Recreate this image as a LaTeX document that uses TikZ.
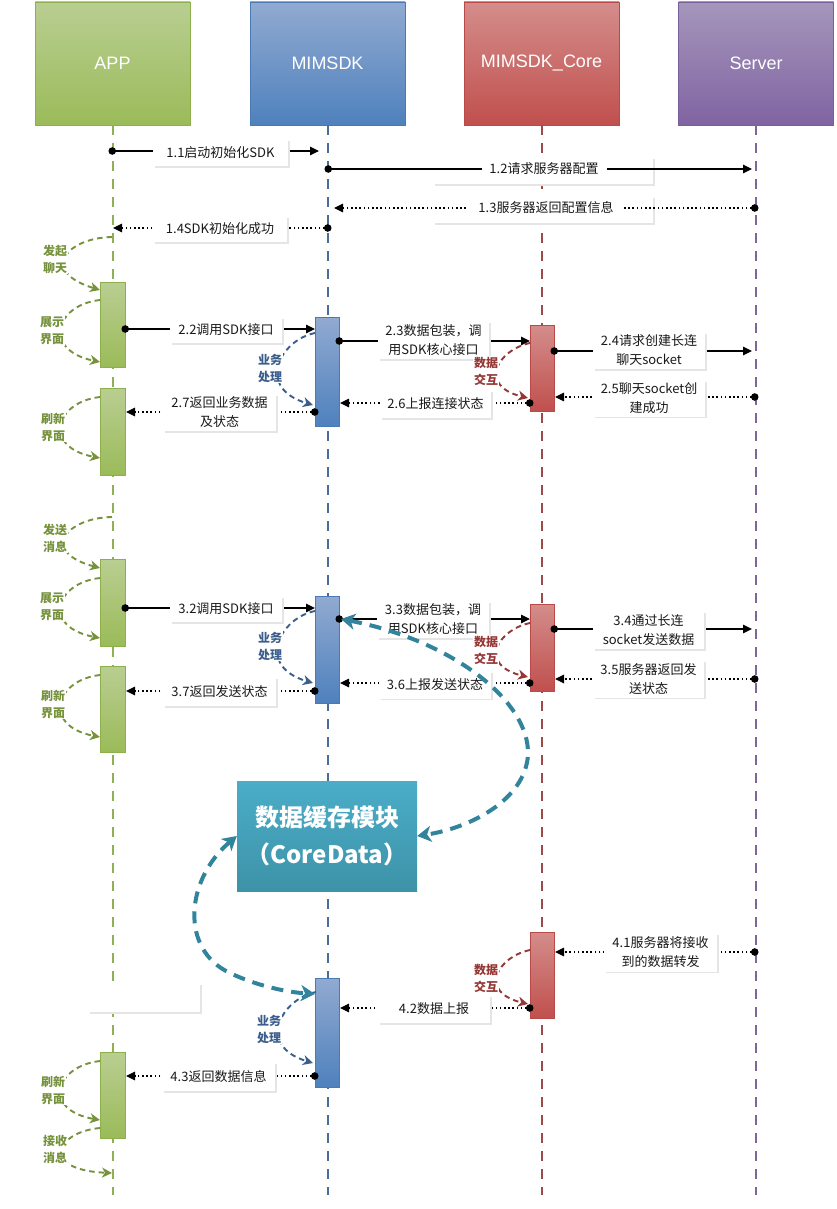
\documentclass[tikz,border=0pt]{standalone}
\usepackage{fontspec}
\setmainfont{Noto Sans CJK SC}
\newfontfamily\headfont{Liberation Sans}
\usetikzlibrary{arrows.meta,shadows}
\definecolor{appTop}{HTML}{B9CE92}
\definecolor{appBot}{HTML}{9BBB59}
\definecolor{appBd}{HTML}{8DAF4C}
\definecolor{appLn}{HTML}{8FB055}
\definecolor{appTx}{HTML}{76923C}
\definecolor{sdkTop}{HTML}{91AAD1}
\definecolor{sdkBot}{HTML}{4F81BD}
\definecolor{sdkBd}{HTML}{4A7AB5}
\definecolor{sdkLn}{HTML}{4A6C9A}
\definecolor{sdkTx}{HTML}{3B5E8C}
\definecolor{coreTop}{HTML}{D48D8B}
\definecolor{coreBot}{HTML}{C0504D}
\definecolor{coreBd}{HTML}{BA4A47}
\definecolor{coreLn}{HTML}{9C4A4A}
\definecolor{coreTx}{HTML}{953735}
\definecolor{srvTop}{HTML}{A596BB}
\definecolor{srvBot}{HTML}{8064A2}
\definecolor{srvBd}{HTML}{7A5F9C}
\definecolor{srvLn}{HTML}{7F6698}
\definecolor{cdTop}{HTML}{4BADC8}
\definecolor{cdBot}{HTML}{3D93A8}
\definecolor{cdAr}{HTML}{31849B}
\tikzset{
  hbox/.style n args={3}{draw=#3, line width=0.8pt, top color=#1, bottom color=#2,
    minimum width=155pt, minimum height=123pt, inner sep=0pt, text=white,
    font=\headfont\fontsize{18}{20}\selectfont},
  act/.style n args={3}{draw=#3, line width=0.8pt, top color=#1, bottom color=#2,
    minimum width=24pt, inner sep=0pt},
  life/.style={line width=2pt, dash pattern=on 10pt off 8pt},
  lbl/.style={fill=white, text=black!90, font=\fontsize{13}{19}\selectfont, align=center,
    inner sep=0pt, drop shadow={shadow xshift=1.6pt, shadow yshift=-1.6pt, fill=black!10, opacity=1}},
  tlbl/.style={fill=white, text=black!90, font=\fontsize{13}{19}\selectfont, inner sep=0pt},
  msg/.style={line width=1.1pt, shorten <=-3.5pt, {Circle[length=7.5pt]}-{Triangle[length=9pt,width=8.5pt]}},
  rmsg/.style={msg, dash pattern=on 1.6pt off 2.6pt},
  side/.style={line width=1.9pt, dash pattern=on 5.5pt off 4pt, -{Stealth[length=10pt,width=10pt,inset=3pt]}},
  stxt/.style={font=\bfseries\fontsize{12}{17}\selectfont, align=center, fill=white, inner sep=1pt},
  big/.style={draw=cdAr, line width=4pt, dash pattern=on 12pt off 8pt,
    {Stealth[length=14pt,width=16pt,inset=4pt]}-{Stealth[length=14pt,width=16pt,inset=4pt]}},
  cdbox/.style={top color=cdTop, bottom color=cdBot, draw=none, minimum width=180pt,
    minimum height=110pt, inner sep=0pt, text=white, align=center,
    font=\bfseries\fontsize{24}{37}\selectfont},
}
\begin{document}
\begin{tikzpicture}[x=1pt,y=-1pt]
\useasboundingbox (0,0) rectangle (836,1209);
% headers
\node[hbox={appTop}{appBot}{appBd}] (happ) at (112.5,63.5) {APP};
\node[hbox={sdkTop}{sdkBot}{sdkBd}] (hsdk) at (327.5,63.5) {MIMSDK};
\node[hbox={coreTop}{coreBot}{coreBd}] (hcore) at (541.5,63.5) {MIMSDK\_Core};
\node[hbox={srvTop}{srvBot}{srvBd}] (hsrv) at (756,63.5) {Server};
% lifelines
\coordinate (appEnd) at (112.5,1195);
\coordinate (sdkEnd) at (327.5,1195);
\coordinate (coreEnd) at (541.5,1195);
\coordinate (srvEnd) at (756,1195);
\draw[life, appLn] (happ.south) -- (appEnd);
\draw[life, sdkLn] (hsdk.south) -- (sdkEnd);
\draw[life, coreLn] (hcore.south) -- (coreEnd);
\draw[life, srvLn] (hsrv.south) -- (srvEnd);
% CoreData box
\node[cdbox] (cd) at (327,836) {数据缓存模块\\（CoreData）};
% activation boxes
\node[act={appTop}{appBot}{appBd}, minimum width=25pt, minimum height=85pt] (a1) at (112.5,324.5) {};
\node[act={appTop}{appBot}{appBd}, minimum width=25pt, minimum height=87pt] (a2) at (112.5,431.5) {};
\node[act={appTop}{appBot}{appBd}, minimum width=25pt, minimum height=87pt] (a3) at (112.5,602.5) {};
\node[act={appTop}{appBot}{appBd}, minimum width=25pt, minimum height=86pt] (a4) at (112.5,709) {};
\node[act={appTop}{appBot}{appBd}, minimum width=25pt, minimum height=86pt] (a5) at (112.5,1095) {};
\node[act={sdkTop}{sdkBot}{sdkBd}, minimum height=109pt] (s1) at (327,371.5) {};
\node[act={sdkTop}{sdkBot}{sdkBd}, minimum height=107pt] (s2) at (327,649.5) {};
\node[act={sdkTop}{sdkBot}{sdkBd}, minimum height=109pt] (s3) at (327,1032.5) {};
\node[act={coreTop}{coreBot}{coreBd}, minimum height=86pt] (c1) at (542,368) {};
\node[act={coreTop}{coreBot}{coreBd}, minimum height=87pt] (c2) at (542,647.5) {};
\node[act={coreTop}{coreBot}{coreBd}, minimum height=86pt] (c3) at (542,975) {};
% wide frames
\node[lbl, minimum width=220pt, minimum height=27pt] (f12) at (543,170.5) {};
\node[lbl, minimum width=220pt, minimum height=27pt] (f13) at (543,209.5) {};
\node[lbl, minimum width=112pt, minimum height=29pt] (fe) at (144,997.5) {};
% message end points
\coordinate (m11a) at (112,151);  \coordinate (m11b) at (319,151);
\coordinate (m12a) at (328,169);  \coordinate (m12b) at (752,169);
\coordinate (m13a) at (755,208);  \coordinate (m13b) at (334,208);
\coordinate (m14a) at (328,228);  \coordinate (m14b) at (113,228);
\coordinate (m22a) at (125,329);  \coordinate (m22b) at (315,329);
\coordinate (m23a) at (339,341);  \coordinate (m23b) at (530,341);
\coordinate (m24a) at (554,351);  \coordinate (m24b) at (752,351);
\coordinate (m25a) at (755,397);  \coordinate (m25b) at (555,397);
\coordinate (m26a) at (530,403);  \coordinate (m26b) at (340,403);
\coordinate (m27a) at (315,412);  \coordinate (m27b) at (126,412);
\coordinate (m32a) at (125,608);  \coordinate (m32b) at (315,608);
\coordinate (m33a) at (339,619);  \coordinate (m33b) at (530,619);
\coordinate (m34a) at (554,629);  \coordinate (m34b) at (752,629);
\coordinate (m35a) at (755,679);  \coordinate (m35b) at (555,679);
\coordinate (m36a) at (530,683);  \coordinate (m36b) at (340,683);
\coordinate (m37a) at (315,691);  \coordinate (m37b) at (126,691);
\coordinate (m41a) at (755,952);  \coordinate (m41b) at (555,952);
\coordinate (m42a) at (530,1008); \coordinate (m42b) at (340,1008);
\coordinate (m43a) at (315,1076); \coordinate (m43b) at (126,1076);
% messages
\draw[msg] (m11a) -- (m11b);
\draw[msg] (m12a) -- (m12b);
\draw[rmsg] (m13a) -- (m13b);
\draw[rmsg] (m14a) -- (m14b);
\draw[msg] (m22a) -- (m22b);
\draw[msg] (m23a) -- (m23b);
\draw[msg] (m24a) -- (m24b);
\draw[rmsg] (m25a) -- (m25b);
\draw[rmsg] (m26a) -- (m26b);
\draw[rmsg] (m27a) -- (m27b);
\draw[msg] (m32a) -- (m32b);
\draw[msg] (m33a) -- (m33b);
\draw[msg] (m34a) -- (m34b);
\draw[rmsg] (m35a) -- (m35b);
\draw[rmsg] (m36a) -- (m36b);
\draw[rmsg] (m37a) -- (m37b);
\draw[rmsg] (m41a) -- (m41b);
\draw[rmsg] (m42a) -- (m42b);
\draw[rmsg] (m43a) -- (m43b);
% labels
\node[lbl, minimum width=135pt, minimum height=27pt] (l11) at (220.5,152.5) {1.1启动初始化SDK};
\node[tlbl, minimum width=125pt, minimum height=18pt] (t12) at (544,169) {1.2请求服务器配置};
\node[tlbl, minimum width=154pt, minimum height=18pt] (t13) at (546,208) {1.3服务器返回配置信息};
\node[lbl, minimum width=134pt, minimum height=26pt] (l14) at (220,229) {1.4SDK初始化成功};
\node[lbl, minimum width=112pt, minimum height=26pt] (l22) at (226,330) {2.2调用SDK接口};
\node[lbl, minimum width=111pt, minimum height=38pt] (l23) at (433.5,340) {2.3数据包装，调\\用SDK核心接口};
\node[lbl, minimum width=112pt, minimum height=37pt] (l24) at (649,350.5) {2.4请求创建长连\\聊天socket};
\node[lbl, minimum width=112pt, minimum height=36pt] (l25) at (649,398.5) {2.5聊天socket创\\建成功};
\node[lbl, minimum width=111pt, minimum height=28pt] (l26) at (435.5,404) {2.6上报连接状态};
\node[lbl, minimum width=113pt, minimum height=37pt] (l27) at (219.5,412.5) {2.7返回业务数据\\及状态};
\node[lbl, minimum width=112pt, minimum height=26pt] (l32) at (226,609) {3.2调用SDK接口};
\node[lbl, minimum width=112pt, minimum height=37pt] (l33) at (433,619.5) {3.3数据包装，调\\用SDK核心接口};
\node[lbl, minimum width=111pt, minimum height=38pt] (l34) at (648.5,630) {3.4通过长连\\socket发送数据};
\node[lbl, minimum width=111pt, minimum height=37pt] (l35) at (648.5,679) {3.5服务器返回发\\送状态};
\node[lbl, minimum width=112pt, minimum height=27pt] (l36) at (435,685) {3.6上报发送状态};
\node[lbl, minimum width=113pt, minimum height=29pt] (l37) at (219.5,691.5) {3.7返回发送状态};
\node[lbl, minimum width=113pt, minimum height=38pt] (l41) at (660.5,952.5) {4.1服务器将接收\\到的数据转发};
\node[lbl, minimum width=112pt, minimum height=28pt] (l42) at (434,1009) {4.2数据上报};
\node[lbl, minimum width=113pt, minimum height=29pt] (l43) at (218.5,1076.5) {4.3返回数据信息};
% side curve end points
\coordinate (p1a) at (112,237);  \coordinate (p1b) at (100,290);
\coordinate (p2a) at (100,300);  \coordinate (p2b) at (100,362);
\coordinate (p3a) at (100,397);  \coordinate (p3b) at (100,458);
\coordinate (p4a) at (112,517);  \coordinate (p4b) at (100,568);
\coordinate (p5a) at (100,578);  \coordinate (p5b) at (100,638);
\coordinate (p6a) at (100,675);  \coordinate (p6b) at (100,737);
\coordinate (p7a) at (100,1061); \coordinate (p7b) at (100,1120);
\coordinate (p8a) at (100,1128); \coordinate (p8b) at (112,1173);
\coordinate (b1a) at (315,333);  \coordinate (b1b) at (313,405);
\coordinate (b2a) at (315,611);  \coordinate (b2b) at (313,683);
\coordinate (b3a) at (316,992);  \coordinate (b3b) at (313,1063);
\coordinate (r1a) at (530,343);  \coordinate (r1b) at (528,398);
\coordinate (r2a) at (530,623);  \coordinate (r2b) at (528,677);
\coordinate (r3a) at (530,950);  \coordinate (r3b) at (528,1004);
% APP side curves
\draw[side, appTx] (p1a) .. controls (65,238) and (40,272) .. (p1b);
\draw[side, appTx] (p2a) .. controls (55,305) and (42,350) .. (p2b);
\draw[side, appTx] (p3a) .. controls (55,402) and (42,447) .. (p3b);
\draw[side, appTx] (p4a) .. controls (65,518) and (40,552) .. (p4b);
\draw[side, appTx] (p5a) .. controls (55,583) and (42,627) .. (p5b);
\draw[side, appTx] (p6a) .. controls (55,680) and (42,726) .. (p6b);
\draw[side, appTx] (p7a) .. controls (55,1066) and (42,1110) .. (p7b);
\draw[side, appTx] (p8a) .. controls (55,1132) and (40,1170) .. (p8b);
\node[stxt, text=appTx] (x1) at (55,259) {发起\\聊天};
\node[stxt, text=appTx] (x2) at (52,331) {展示\\界面};
\node[stxt, text=appTx] (x3) at (53,427) {刷新\\界面};
\node[stxt, text=appTx] (x4) at (55,538) {发送\\消息};
\node[stxt, text=appTx] (x5) at (52,607) {展示\\界面};
\node[stxt, text=appTx] (x6) at (53,704) {刷新\\界面};
\node[stxt, text=appTx] (x7) at (53,1090) {刷新\\界面};
\node[stxt, text=appTx] (x8) at (55,1149) {接收\\消息};
% SDK side curves
\draw[side, sdkTx] (b1a) .. controls (280,340) and (255,388) .. (b1b);
\draw[side, sdkTx] (b2a) .. controls (280,618) and (255,666) .. (b2b);
\draw[side, sdkTx] (b3a) .. controls (281,999) and (256,1046) .. (b3b);
\node[stxt, text=sdkTx] (y1) at (270,368) {业务\\处理};
\node[stxt, text=sdkTx] (y2) at (270,646) {业务\\处理};
\node[stxt, text=sdkTx] (y3) at (269,1029) {业务\\处理};
% Core side curves
\draw[side, coreTx] (r1a) .. controls (497,350) and (478,386) .. (r1b);
\draw[side, coreTx] (r2a) .. controls (497,630) and (478,665) .. (r2b);
\draw[side, coreTx] (r3a) .. controls (497,957) and (478,992) .. (r3b);
\node[stxt, text=coreTx] (z1) at (486,371) {数据\\交互};
\node[stxt, text=coreTx] (z2) at (486,650) {数据\\交互};
\node[stxt, text=coreTx] (z3) at (486,978) {数据\\交互};
% big teal arrows
\coordinate (bigA) at (341,619);
\coordinate (bigB) at (315,994);
\draw[big] (bigA) .. controls (450,640) and (530,700) .. (528,755)
  .. controls (525,800) and (470,828) .. (cd.east);
\draw[big] (cd.west) .. controls (185,880) and (180,950) .. (230,973)
  .. controls (255,985) and (285,992) .. (bigB);
\end{tikzpicture}
\end{document}
